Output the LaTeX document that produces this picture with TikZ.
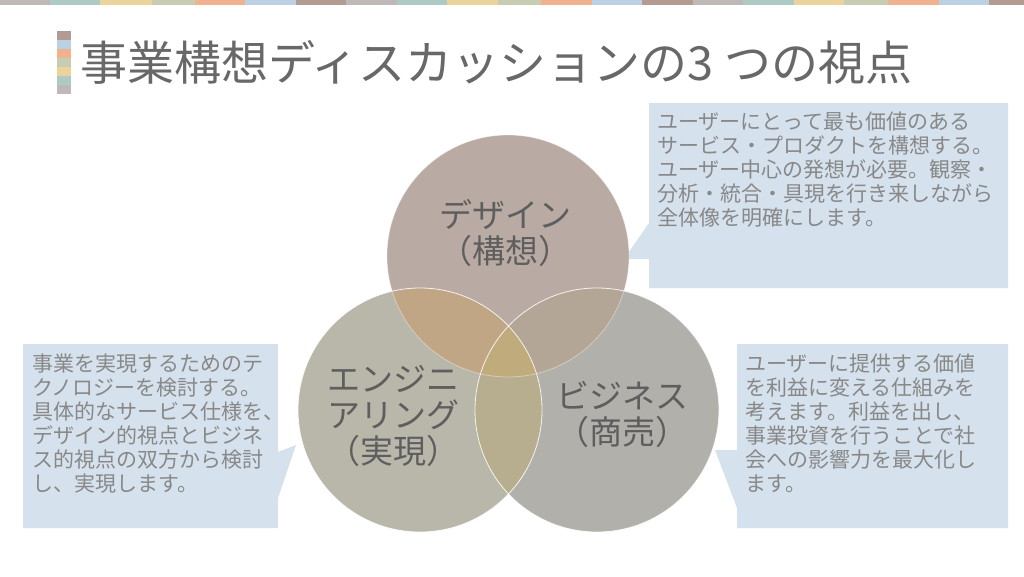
\documentclass[tikz,border=0pt]{standalone}
\usepackage{fontspec}
\setmainfont{Noto Sans CJK JP}
\definecolor{sgray}{RGB}{190,184,183}
\definecolor{steal}{RGB}{173,202,196}
\definecolor{syellow}{RGB}{236,211,155}
\definecolor{ssage}{RGB}{200,204,178}
\definecolor{sorange}{RGB}{239,177,142}
\definecolor{sblue}{RGB}{187,208,227}
\definecolor{sbrown}{RGB}{180,155,146}
\definecolor{ctop}{RGB}{185,171,164}
\definecolor{cleft}{RGB}{185,182,170}
\definecolor{cright}{RGB}{177,176,170}
\definecolor{ctl}{RGB}{192,166,133}
\definecolor{ctr}{RGB}{179,166,150}
\definecolor{clr}{RGB}{183,173,143}
\definecolor{cmid}{RGB}{192,171,125}
\definecolor{callfill}{RGB}{213,225,236}
\definecolor{titlecol}{RGB}{104,104,104}
\definecolor{labelcol}{RGB}{94,94,94}
\definecolor{calltext}{RGB}{136,136,136}
\tikzset{
  callbox/.style={fill=callfill},
  calltxt/.style={anchor=north west, inner sep=0pt, align=left, text=calltext,
    font=\fontsize{21}{24}\selectfont},
  circlabel/.style={inner sep=0pt, align=center, text=labelcol,
    font=\fontsize{33}{36}\selectfont},
  circedge/.style={draw=white, line width=0.8pt, opacity=0.85}
}
\begin{document}
\begin{tikzpicture}[x=1pt,y=-1pt]
\useasboundingbox (0,0) rectangle (1024,576);
\fill[white] (0,0) rectangle (1024,576);
% top colour strip
\foreach \a/\b/\c in {0/50/sgray,50/100/steal,100/152/syellow,152/195/ssage,195/245/sorange,245/296/sblue,296/346/sbrown,
  346/397/sgray,397/447/steal,447/498/syellow,498/541/ssage,541/592/sorange,592/642/sblue,642/693/sbrown,
  693/743/sgray,743/794/steal,794/844/syellow,844/888/ssage,888/939/sorange,939/989/sblue,989/1024/sbrown}
  \fill[\c] (\a,0) rectangle (\b,5);
% title icon
\foreach \i/\c in {0/sbrown,1/sblue,2/sorange,3/ssage,4/syellow,5/steal,6/sgray}
  \fill[\c] (57,31+9*\i) rectangle (71,40+9*\i);
\node[anchor=base west, inner sep=0pt, text=titlecol, font=\fontsize{47}{52}\selectfont] (title) at (80,80) {事業構想ディスカッションの3 つの視点};
% callouts
\fill[callbox] (649,103) -- (1008,103) -- (1008,288) -- (649,288) -- (649,259) -- (624,259) -- (649,223) -- cycle;
\fill[callbox] (23,344) -- (278,344) -- (278,452) -- (296,445) -- (278,498) -- (278,528) -- (23,528) -- cycle;
\fill[callbox] (737,344) -- (1008,344) -- (1008,528) -- (737,528) -- (737,508) -- (715,450) -- (737,450) -- cycle;
\node[calltxt] (txtD) at (657,112) {ユーザーにとって最も価値のある\\サービス・プロダクトを構想する。\\ユーザー中心の発想が必要。観察・\\分析・統合・具現を行き来しながら\\全体像を明確にします。};
\node[calltxt] (txtE) at (32,354) {事業を実現するためのテ\\クノロジーを検討する。\\具体的なサービス仕様を、\\デザイン的視点とビジネ\\ス的視点の双方から検討\\し、実現します。};
\node[calltxt] (txtB) at (745,354) {ユーザーに提供する価値\\を利益に変える仕組みを\\考えます。利益を出し、\\事業投資を行うことで社\\会への影響力を最大化し\\ます。};
% venn circles
\coordinate (cD) at (508,256);
\coordinate (cL) at (420,410);
\coordinate (cR) at (597,410);
\fill[cleft] (cL) circle (122pt);
\fill[cright] (cR) circle (122pt);
\fill[ctop] (cD) circle (121pt);
\begin{scope}
  \clip (cL) circle (122pt);
  \fill[clr] (cR) circle (122pt);
\end{scope}
\begin{scope}
  \clip (cD) circle (121pt);
  \fill[ctl] (cL) circle (122pt);
  \fill[ctr] (cR) circle (122pt);
  \clip (cL) circle (122pt);
  \fill[cmid] (cR) circle (122pt);
\end{scope}
\draw[circedge, opacity=0.4] (cD) circle (121pt);
\draw[circedge] (cL) circle (122pt);
\draw[circedge] (cR) circle (122pt);
% labels
\node[circlabel] (lblD) at (505,233) {デザイン\\（構想）};
\node[circlabel] (lblE) at (393,416) {エンジニ\\アリング\\（実現）};
\node[circlabel] (lblB) at (622,414) {ビジネス\\（商売）};
\end{tikzpicture}
\end{document}
